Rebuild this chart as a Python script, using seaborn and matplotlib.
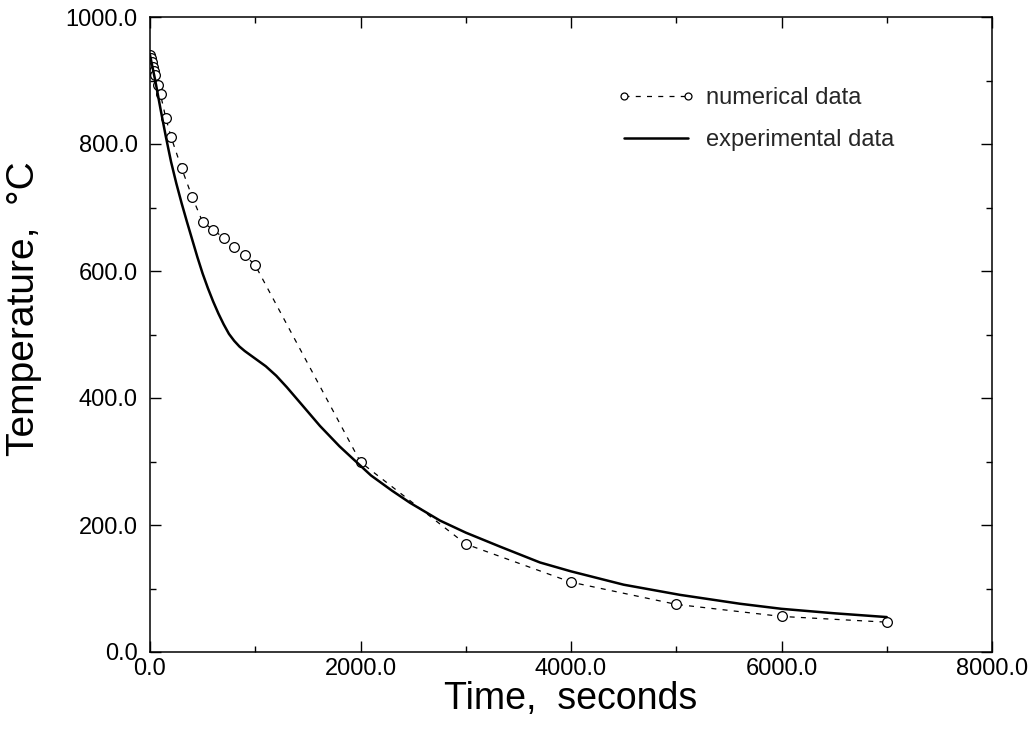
import numpy as np
import pandas as pd
import matplotlib
matplotlib.use("Agg")
import matplotlib.pyplot as plt
import seaborn as sns
from matplotlib.ticker import MultipleLocator, FormatStrFormatter

# numerical data (circles, dashed)
num_time = [0, 10, 20, 30, 40, 50, 75, 100, 150, 200, 300, 400, 500, 600, 700, 800, 900, 1000,
            2000, 3000, 4000, 5000, 6000, 7000]
num_temp = [940, 935, 929, 922, 915, 908, 893, 878, 841, 811, 762, 717, 677, 665, 652, 638, 625, 609,
            299, 170, 110, 75, 56, 47]

# experimental data (solid line)
exp_time = [0, 50, 100, 150, 200, 250, 300, 350, 400, 450, 500, 550, 600, 650, 700, 750, 800, 850,
            900, 1000, 1100, 1200, 1300, 1450, 1615, 1800, 1930, 2100, 2300, 2470, 2755, 3000, 3325,
            3705, 4000, 4500, 5035, 5605, 6000, 6500, 7000]
exp_temp = [940, 900, 855, 812, 772, 738, 707, 678, 650, 622, 596, 573, 552, 533, 516, 501, 490, 481,
            474, 462, 450, 435, 417, 388, 356, 324, 304, 278, 254, 235, 207, 188, 166,
            141, 127, 106, 90, 76, 68, 61, 55]

sns.set_theme(style="ticks")
plt.rcParams['font.family'] = ['Liberation Sans', 'DejaVu Sans']

fig = plt.figure(figsize=(10.29, 7.30), dpi=100)
ax = fig.add_axes([150/1029, 1-652/730, (992-150)/1029, (652-17)/730])

num_df = pd.DataFrame({"t": num_time, "T": num_temp})
exp_df = pd.DataFrame({"t": exp_time, "T": exp_temp})

sns.lineplot(data=num_df, x="t", y="T", ax=ax, color="black", linewidth=0.9,
             linestyle=(0, (4, 5)), marker="o", markersize=7, markerfacecolor="white",
             markeredgecolor="black", markeredgewidth=0.9, label="numerical data", sort=False)
sns.lineplot(data=exp_df, x="t", y="T", ax=ax, color="black", linewidth=1.8,
             label="experimental data", sort=False)

ax.set_xlim(0, 8000)
ax.set_ylim(0, 1000)
ax.xaxis.set_major_locator(MultipleLocator(2000))
ax.xaxis.set_minor_locator(MultipleLocator(1000))
ax.yaxis.set_major_locator(MultipleLocator(200))
ax.yaxis.set_minor_locator(MultipleLocator(100))
ax.xaxis.set_major_formatter(FormatStrFormatter("%.1f"))
ax.yaxis.set_major_formatter(FormatStrFormatter("%.1f"))
ax.tick_params(which="both", direction="in", top=True, right=True, color="black",
               labelcolor="black")
ax.tick_params(which="major", length=8, width=1, labelsize=17)
ax.tick_params(axis="x", which="major", pad=4)
ax.tick_params(axis="y", which="major", pad=9)
ax.tick_params(which="minor", length=4, width=1)
for s in ax.spines.values():
    s.set_visible(True)
    s.set_color("black")
    s.set_linewidth(1.1)

ax.set_xlabel("Time,  seconds", fontsize=27, labelpad=1, color="black")
ax.set_ylabel("Temperature,  °C", fontsize=28, color="black")
ax.yaxis.set_label_coords(-0.128, 0.54)

leg = ax.legend(loc="upper left", bbox_to_anchor=(0.555, 0.89), frameon=False,
                borderaxespad=0, borderpad=0, handlelength=3.3, handletextpad=0.45,
                labelspacing=0.85, numpoints=2, prop={"size": 17})
for h in leg.legend_handles:
    h.set_markersize(5)

fig.savefig("out.png", dpi=100)
